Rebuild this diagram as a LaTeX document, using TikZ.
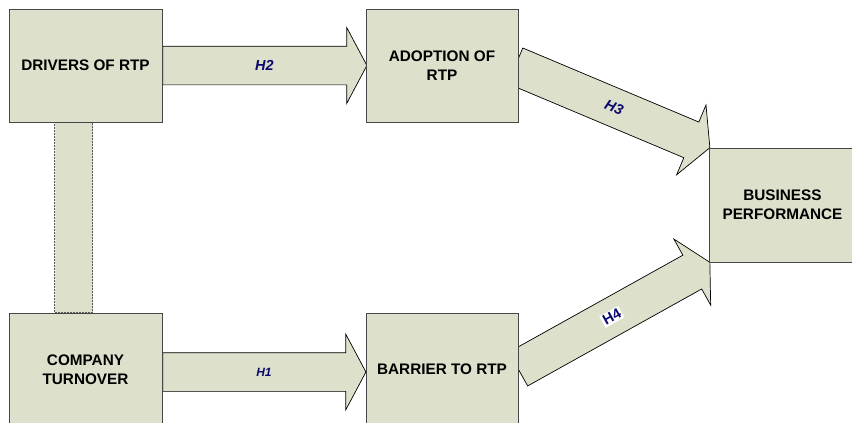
\documentclass[tikz,border=0pt]{standalone}
\usepackage{fontspec}
\setmainfont{Liberation Sans}
\usetikzlibrary{shapes.arrows,calc}
\definecolor{boxfill}{RGB}{221,224,203}
\definecolor{boxline}{RGB}{70,70,70}
\definecolor{hlab}{RGB}{10,10,110}
\pgfdeclarelayer{background}
\pgfsetlayers{background,main}
\newcommand\blockarrow[2]{%
  \path let \p1=(#1), \p2=(#2), \n1={atan2(\y2-\y1,\x2-\x1)}, \n2={veclen(\x2-\x1,\y2-\y1)} in
    node[barrow, rotate=\n1, minimum height=\n2, anchor=tail] at (#1) {};
}
\begin{document}
\begin{tikzpicture}[x=1pt,y=-1pt,
  box/.style={draw=boxline, line width=0.9pt, fill=boxfill, minimum width=153pt, minimum height=113pt,
    inner sep=0pt, align=center, font=\fontsize{15.3}{19}\selectfont\bfseries},
  barrow/.style={single arrow, draw=black, line width=0.7pt, fill=boxfill, inner xsep=0pt, inner ysep=19pt,
    single arrow head extend=18.5pt, single arrow tip angle=124},
  hl/.style={text=hlab, font=\fontsize{14.5}{16}\selectfont\bfseries\itshape, inner sep=1pt},
  link/.style={draw=black!65, line width=1.3pt, dash pattern=on 1pt off 0.5pt, fill=boxfill}]
\clip (0,0) rectangle (852,423);
\node[box] (DR) at (85.5,65.5) {DRIVERS OF RTP};
\node[box, minimum width=152pt] (AD) at (442,65.5) {ADOPTION OF\\RTP};
\node[box, minimum height=114pt] (BP) at (785.5,205) {\hspace*{-6pt}BUSINESS\\\hspace*{-6pt}PERFORMANCE};
\node[box] (CT) at (85.5,369.5) {COMPANY\\TURNOVER};
\node[box, minimum width=152pt] (BR) at (442,369.5) {BARRIER TO RTP};
\coordinate (h2a) at (DR.east);
\coordinate (h2b) at ([xshift=1pt]AD.west);
\coordinate (h1a) at ([yshift=-2.5pt]CT.east);
\coordinate (h1b) at ([yshift=-2.5pt]BR.west);
\coordinate (h3a) at ([xshift=-3.5pt,yshift=-0.2pt]AD.east);
\coordinate (h3b) at ([xshift=1pt]BP.north west);
\coordinate (h4a) at ([xshift=-0.5pt,yshift=0.3pt]BR.east);
\coordinate (h4b) at ([xshift=1pt]BP.south west);
\begin{pgfonlayer}{background}
  \fill[white] (0,0) rectangle (852,423);
  \path[link] ([xshift=46pt]DR.south west) rectangle ([xshift=84pt]CT.north west);
  \blockarrow{h2a}{h2b}
  \blockarrow{h1a}{h1b}
  \blockarrow{h3a}{h3b}
  \blockarrow{h4a}{h4b}
\end{pgfonlayer}
\path (h2a) -- (h2b) node[hl, pos=0.5] {H2};
\path (h1a) -- (h1b) node[hl, pos=0.5, font=\fontsize{12}{14}\selectfont\bfseries\itshape] {H1};
\path (h3a) -- (h3b) node[hl, pos=0.51, sloped] {H3};
\path (h4a) -- (h4b) node[hl, pos=0.49, sloped, fill=white, inner sep=1.5pt, font=\fontsize{14.5}{16}\selectfont\bfseries] {H4};
\end{tikzpicture}
\end{document}
